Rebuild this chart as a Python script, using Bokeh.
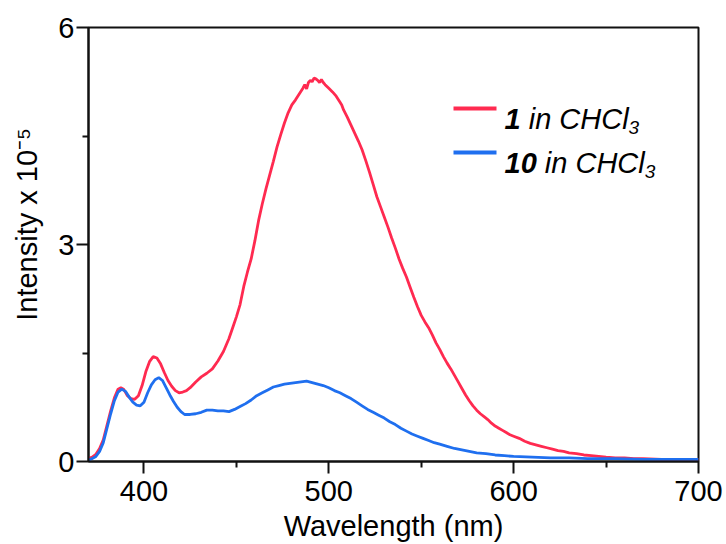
from bokeh.plotting import figure
from bokeh.models import Range1d, FixedTicker, Label, BoxAnnotation
from bokeh.embed import file_html
from bokeh.resources import INLINE

# Emission spectra (intensity in units of 1e5)
wavelength_1 = [370, 372, 374, 376, 378, 380, 382, 384, 386, 387.5, 389, 391, 393, 395, 397,
                399, 401, 403, 405, 407, 409, 411, 413, 415, 417, 419, 421, 423, 425, 428,
                431, 434, 437, 440, 443, 446, 448, 450, 452, 454, 456, 458, 460, 462, 464,
                466, 468, 470, 472, 474, 476, 478, 480, 482, 484, 486, 487, 488, 489, 490,
                491, 492, 493, 494, 495, 496, 497, 498, 500, 502, 504, 506, 507, 508, 510,
                512, 514, 516, 518, 520, 522, 524, 526, 528, 530, 532, 534, 536, 538, 540,
                542, 544, 546, 548, 550, 552, 554, 556, 558, 560, 562, 564, 566, 568, 570,
                572, 574, 576, 578, 580, 582, 584, 586, 588, 590, 592, 594, 596, 598, 600,
                603, 606, 609, 612, 615, 618, 621, 624, 627, 630, 634, 638, 642, 646, 650,
                655, 660, 665, 670, 680, 690, 700]
intensity_1 = [0.04, 0.06, 0.10, 0.18, 0.30, 0.50, 0.70, 0.88, 1.00, 1.02, 1.00, 0.91, 0.87, 0.86, 0.91,
               1.05, 1.24, 1.38, 1.45, 1.43, 1.35, 1.23, 1.12, 1.04, 0.98, 0.95, 0.96, 0.98, 1.02, 1.10,
               1.17, 1.22, 1.28, 1.39, 1.52, 1.70, 1.85, 2.00, 2.17, 2.42, 2.62, 2.80, 3.05, 3.33, 3.56,
               3.77, 3.96, 4.15, 4.35, 4.52, 4.68, 4.82, 4.93, 5.00, 5.08, 5.16, 5.21, 5.15, 5.24, 5.27,
               5.25, 5.30, 5.29, 5.27, 5.24, 5.28, 5.24, 5.21, 5.16, 5.11, 5.05, 4.97, 4.93, 4.86, 4.76,
               4.65, 4.54, 4.43, 4.31, 4.16, 4.00, 3.83, 3.66, 3.52, 3.38, 3.24, 3.09, 2.95, 2.80, 2.67,
               2.55, 2.41, 2.27, 2.14, 2.02, 1.93, 1.85, 1.75, 1.64, 1.55, 1.45, 1.36, 1.28, 1.19, 1.10,
               1.01, 0.92, 0.84, 0.77, 0.71, 0.66, 0.62, 0.58, 0.53, 0.49, 0.46, 0.43, 0.40, 0.37, 0.35,
               0.32, 0.28, 0.25, 0.23, 0.21, 0.19, 0.17, 0.15, 0.14, 0.12, 0.11, 0.09, 0.08, 0.07, 0.06,
               0.05, 0.05, 0.04, 0.04, 0.03, 0.03, 0.03]

wavelength_10 = [370, 372, 374, 376, 378, 380, 382, 384, 386, 388, 390, 392, 394, 396, 398,
                 400, 402, 404, 406, 408, 410, 412, 414, 416, 418, 420, 422, 425, 428, 431,
                 434, 437, 440, 443, 446, 449, 452, 455, 458, 461, 464, 467, 470, 473, 476,
                 479, 482, 485, 488, 491, 494, 497, 500, 503, 506, 509, 512, 515, 518, 521,
                 524, 527, 530, 533, 536, 539, 542, 545, 548, 551, 554, 557, 560, 564, 568,
                 572, 576, 580, 585, 590, 595, 600, 610, 620, 630, 640, 655, 670, 685, 700]
intensity_10 = [0.02, 0.04, 0.07, 0.14, 0.26, 0.46, 0.66, 0.84, 0.96, 1.00, 0.97, 0.89, 0.82, 0.78, 0.77,
                0.82, 0.95, 1.06, 1.13, 1.16, 1.12, 1.02, 0.92, 0.83, 0.75, 0.69, 0.65, 0.65, 0.66, 0.68,
                0.71, 0.71, 0.70, 0.70, 0.69, 0.72, 0.76, 0.80, 0.85, 0.91, 0.95, 0.99, 1.03, 1.05, 1.07,
                1.08, 1.09, 1.10, 1.11, 1.09, 1.07, 1.05, 1.02, 0.98, 0.95, 0.91, 0.87, 0.82, 0.77, 0.72,
                0.68, 0.64, 0.60, 0.55, 0.51, 0.46, 0.42, 0.38, 0.35, 0.32, 0.29, 0.26, 0.24, 0.21, 0.18,
                0.16, 0.14, 0.12, 0.11, 0.09, 0.08, 0.07, 0.06, 0.05, 0.05, 0.04, 0.04, 0.03, 0.03, 0.03]

x_ticks = [400, 500, 600, 700]
x_minor_ticks = [450, 550, 650]
y_ticks = [0, 3, 6]
y_minor_ticks = [1.5, 4.5]

x_title = "Wavelength (nm)"
y_title = "Intensity x 10\u207b\u2075"

RED = "#ff2a50"
BLUE = "#1f6fef"
INK = "#111111"
FONT = "Liberation Sans"
FS = "29px"

p = figure(width=726, height=544,
           x_range=Range1d(370, 700), y_range=Range1d(0, 6),
           output_backend="svg", toolbar_location=None,
           min_border_left=88, min_border_right=28,
           min_border_top=27, min_border_bottom=83)

p.grid.visible = False
p.background_fill_color = "white"
p.border_fill_color = "white"
p.outline_line_color = INK
p.outline_line_width = 2

p.xaxis.ticker = FixedTicker(ticks=x_ticks, minor_ticks=x_minor_ticks)
p.yaxis.ticker = FixedTicker(ticks=y_ticks, minor_ticks=y_minor_ticks)

for ax in (p.xaxis, p.yaxis):
    ax.axis_line_color = INK
    ax.axis_line_width = 2
    ax.major_tick_line_color = INK
    ax.major_tick_line_width = 2
    ax.minor_tick_line_color = INK
    ax.minor_tick_line_width = 2
    ax.major_tick_in = 0
    ax.major_tick_out = 12
    ax.minor_tick_in = 0
    ax.minor_tick_out = 6
    ax.major_label_text_font = FONT
    ax.major_label_text_font_size = FS
    ax.major_label_text_color = "black"
    ax.axis_label_text_font = FONT
    ax.axis_label_text_font_size = FS
    ax.axis_label_text_font_style = "normal"
    ax.axis_label_text_color = "black"

p.xaxis.axis_label = x_title
p.xaxis.major_label_standoff = 7
p.xaxis.major_label_text_line_height = 1.0
p.xaxis.axis_label_text_line_height = 1.0
p.xaxis.axis_label_standoff = 6

# the y title sits a little above the frame centre: pad its start with no-break spaces
p.yaxis.axis_label = "\u00a0" * 5 + y_title
p.yaxis.major_label_standoff = 2
p.yaxis.axis_label_standoff = 12

# spectra
p.line(wavelength_1, intensity_1, line_color=RED, line_width=2.8)
p.line(wavelength_10, intensity_10, line_color=BLUE, line_width=2.8)

# legend (positions in screen px relative to the plot frame)
EM = 29.0


def legend_entry(color, number, sw_y, base_y):
    p.add_layout(BoxAnnotation(left=365, right=408, bottom=sw_y - 2, top=sw_y + 2,
                               left_units="screen", right_units="screen",
                               bottom_units="screen", top_units="screen",
                               fill_color=color, fill_alpha=1, line_color=None))
    x0 = 416
    num_w = 0.556 * EM * len(number)
    gap = 0.278 * EM
    body_w = 3.444 * EM
    p.add_layout(Label(x=x0, y=base_y, x_units="screen", y_units="screen",
                       text=number, text_font=FONT, text_font_size=FS,
                       text_font_style="bold italic", text_baseline="alphabetic",
                       text_color="black"))
    p.add_layout(Label(x=x0 + num_w + gap, y=base_y, x_units="screen", y_units="screen",
                       text="in CHCl", text_font=FONT, text_font_size=FS,
                       text_font_style="italic", text_baseline="alphabetic",
                       text_color="black"))
    p.add_layout(Label(x=x0 + num_w + gap + body_w, y=base_y - 9, x_units="screen", y_units="screen",
                       text="3", text_font=FONT, text_font_size="19px",
                       text_font_style="italic", text_baseline="alphabetic",
                       text_color="black"))


legend_entry(RED, "1", 353, 343)
legend_entry(BLUE, "10", 309, 299)

open("out.html", "w").write(file_html(p, INLINE))
